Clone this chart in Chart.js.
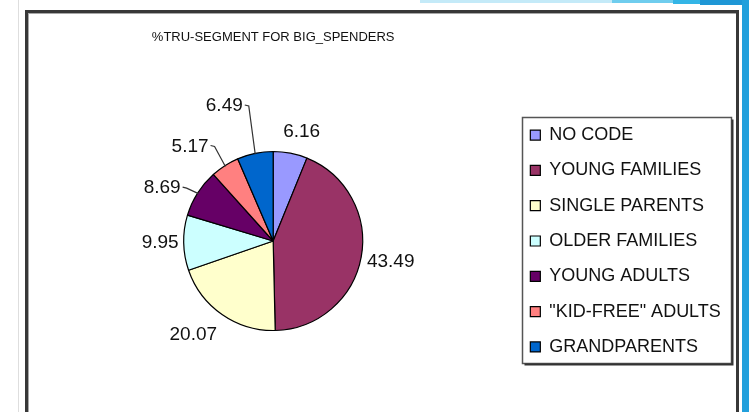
<!DOCTYPE html>
<html>
<head>
<meta charset="utf-8">
<script src="https://cdn.jsdelivr.net/npm/chart.js@4.4.1/dist/chart.umd.min.js"></script>
<style>
  html, body { margin: 0; padding: 0; background: #fff; overflow: hidden; }
  body { width: 749px; height: 412px; position: relative; }
  .deco { position: absolute; }
  #gline { left: 18px; top: 0; width: 1px; height: 412px; background: #dedede; }
  #frame { left: 25px; top: 10px; width: 708px; height: 600px; border: 3px solid #383838; box-shadow: inset 1px 1px 0 #a8a8a8; }
  #band1 { left: 420px; top: 0; width: 192px; height: 3px; background: #c4eaf8; }
  #band2 { left: 612px; top: 0; width: 61px; height: 3px; background: #6fcdee; }
  #band3 { left: 673px; top: 0; width: 27px; height: 4px; background: #33b5e6; }
  #band4 { left: 700px; top: 0; width: 49px; height: 5px; background: #1f97d6; }
  #rband { left: 742px; top: 0; width: 7px; height: 412px; background: #22a0dc; }
  #c { position: absolute; left: 0; top: 0; z-index: 2; }
</style>
</head>
<body>
<div class="deco" id="gline"></div>
<div class="deco" id="frame"></div>
<div class="deco" id="band1"></div>
<div class="deco" id="band2"></div>
<div class="deco" id="band3"></div>
<div class="deco" id="band4"></div>
<div class="deco" id="rband"></div>
<canvas id="c" width="749" height="412"></canvas>
<script>
// ---- data ----
const chartTitle = '%TRU-SEGMENT FOR BIG_SPENDERS';
const categories = ['NO CODE', 'YOUNG FAMILIES', 'SINGLE PARENTS', 'OLDER FAMILIES', 'YOUNG ADULTS', '"KID-FREE" ADULTS', 'GRANDPARENTS'];
const values = [6.16, 43.49, 20.07, 9.95, 8.69, 5.17, 6.49];
const sliceColors = ['#9999FF', '#993366', '#FFFFCC', '#CCFFFF', '#660066', '#FF8080', '#0066CC'];

// ---- label placement options (datalabels-style: align angle in degrees, offset in px, from the slice's outer middle) ----
const labelAlign = [-62.5, 9, 144.4, 179.3, 187.9, 208.8, 237];
const labelOffset = [24.5, 29.9, 35.4, 23.5, 35.8, 39.7, 56.5];
const labelLeader = [false, false, false, false, true, true, true];

const FONT = "'Liberation Sans', Arial, sans-serif";

const sliceLabels = {
  id: 'sliceLabels',
  afterDatasetsDraw(chart) {
    const ctx = chart.ctx;
    const meta = chart.getDatasetMeta(0);
    ctx.save();
    ctx.font = '19px ' + FONT;
    ctx.textAlign = 'center';
    ctx.textBaseline = 'middle';
    meta.data.forEach((arc, i) => {
      const p = arc.getProps(['x', 'y', 'startAngle', 'endAngle', 'outerRadius'], true);
      const mid = (p.startAngle + p.endAngle) / 2;
      const ax = p.x + Math.cos(mid) * p.outerRadius;
      const ay = p.y + Math.sin(mid) * p.outerRadius;
      const a = labelAlign[i] * Math.PI / 180;
      const lx = ax + Math.cos(a) * labelOffset[i];
      const ly = ay + Math.sin(a) * labelOffset[i];
      const txt = values[i].toFixed(2);
      const w = ctx.measureText(txt).width;
      if (labelLeader[i]) {
        const sx = lx + w / 2 + 2;
        const sy = ly - 1;
        ctx.strokeStyle = '#333';
        ctx.lineWidth = 1.2;
        ctx.beginPath();
        ctx.moveTo(sx, sy);
        ctx.lineTo(sx + 4, sy + 1);
        ctx.lineTo(ax - Math.cos(mid) * 1, ay - Math.sin(mid) * 1);
        ctx.stroke();
      }
      ctx.fillStyle = '#111';
      ctx.fillText(txt, lx, ly);
    });
    ctx.restore();
  }
};

const legendFrame = {
  id: 'legendFrame',
  afterDraw(chart) {
    const lg = chart.legend;
    if (!lg || !lg.legendHitBoxes || !lg.legendHitBoxes.length) return;
    const hb = lg.legendHitBoxes;
    let l = Infinity, t = Infinity, r = -Infinity, b = -Infinity;
    hb.forEach(h => { l = Math.min(l, h.left); t = Math.min(t, h.top); r = Math.max(r, h.left + h.width); b = Math.max(b, h.top + h.height); });
    const x0 = Math.round(l - 8) + 0.5, y0 = Math.round(t - 9) + 0.5;
    const x1 = Math.round(r + 10) + 0.5, y1 = Math.round(b + 7) + 0.5;
    const ctx = chart.ctx;
    ctx.save();
    ctx.strokeStyle = '#555';
    ctx.lineWidth = 1.5;
    ctx.strokeRect(x0, y0, x1 - x0, y1 - y0);
    ctx.strokeStyle = '#333';
    ctx.lineWidth = 2;
    ctx.beginPath();
    ctx.moveTo(x1 + 1, y0 + 2); ctx.lineTo(x1 + 1, y1 + 1); ctx.lineTo(x0 + 2, y1 + 1);
    ctx.stroke();
    ctx.restore();
  }
};

new Chart(document.getElementById('c'), {
  type: 'pie',
  data: {
    labels: categories,
    datasets: [{
      data: values,
      backgroundColor: sliceColors,
      borderColor: '#000',
      borderWidth: 1.2,
      radius: 89.5
    }]
  },
  options: {
    responsive: false,
    devicePixelRatio: 1,
    animation: false,
    layout: { padding: { left: 33.3, right: 18.2, top: 0, bottom: 0 } },
    plugins: {
      title: {
        display: true,
        text: chartTitle,
        fullSize: false,
        color: '#111',
        font: { family: FONT, size: 13, weight: 'normal' },
        padding: { top: 29.7, bottom: 24.7 }
      },
      legend: {
        display: true,
        position: 'right',
        fullSize: false,
        labels: {
          color: '#111',
          font: { family: FONT, size: 18 },
          boxWidth: 10,
          boxHeight: 10,
          padding: 17.3
        }
      },
      tooltip: { enabled: false }
    }
  },
  plugins: [sliceLabels, legendFrame]
});
</script>
</body>
</html>
